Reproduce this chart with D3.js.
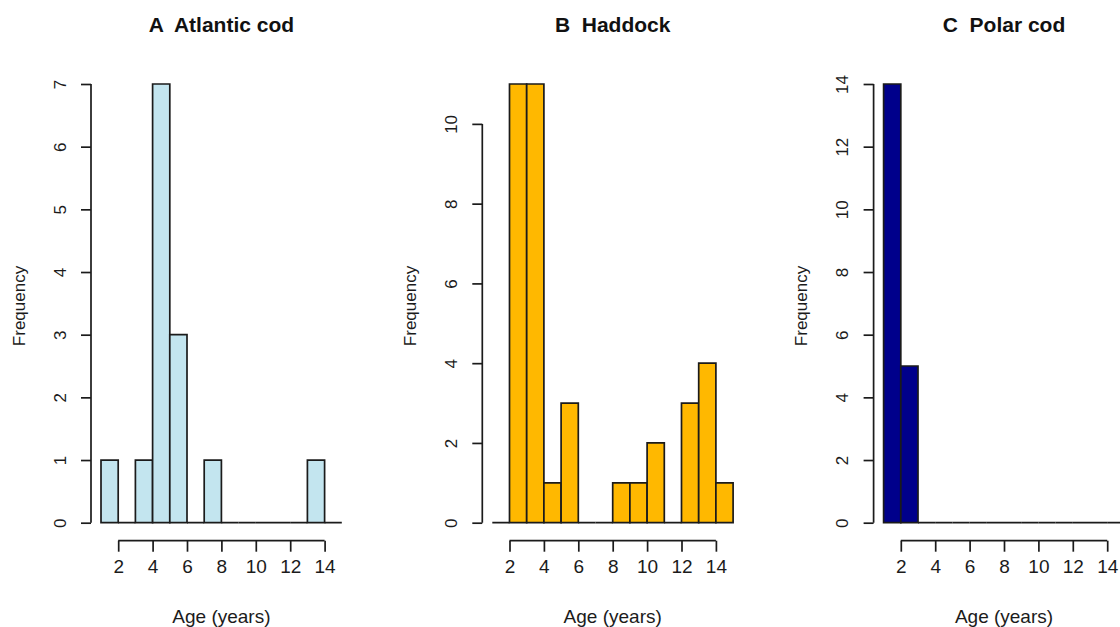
<!DOCTYPE html>
<html>
<head>
<meta charset="utf-8">
<script src="https://cdn.jsdelivr.net/npm/d3@7"></script>
<style>
  html, body { margin: 0; padding: 0; background: #fff; }
  svg { display: block; font-family: "Liberation Sans", Arial, sans-serif; }
</style>
</head>
<body>
<svg id="chart" width="1120" height="627"></svg>
<script>
// Age bins (years): each bin runs from binStarts[i] to binStarts[i] + 1
const binStarts = [1, 2, 3, 4, 5, 6, 7, 8, 9, 10, 11, 12, 13, 14];

// Counts of fish per age bin
const codCounts     = [1, 0, 1, 7, 3, 0, 1, 0, 0, 0, 0, 0, 1, 0];
const haddockCounts = [0, 11, 11, 1, 3, 0, 0, 1, 1, 2, 0, 3, 4, 1];
const polarCounts   = [14, 5, 0, 0, 0, 0, 0, 0, 0, 0, 0, 0, 0, 0];

const panelTitles = ["A  Atlantic cod", "B  Haddock", "C  Polar cod"];
const panelColors = ["#c3e5ef", "#ffb800", "#00008b"];
const xTickValues = [2, 4, 6, 8, 10, 12, 14];
const yTickSets = [
  [0, 1, 2, 3, 4, 5, 6, 7],
  [0, 2, 4, 6, 8, 10],
  [0, 2, 4, 6, 8, 10, 12, 14]
];
const countSets = [codCounts, haddockCounts, polarCounts];

const svg = d3.select("#chart");
const ink = "#1b1b1b";
const fontStack = "'Liberation Sans', Arial, sans-serif";

const panelStep = 391.3;
const firstLeft = 101;
const plotWidth = 240.8;
const yZero = 522.7;
const yTop = 84;
const xAxisY = 540.7;

countSets.forEach((counts, i) => {
  const left = firstLeft + i * panelStep;
  const x = d3.scaleLinear().domain([1, 15]).range([left, left + plotWidth]);
  const yMax = d3.max(counts);
  const y = d3.scaleLinear().domain([0, yMax]).range([yZero, yTop]);
  const g = svg.append("g");

  // Histogram bars (zero-count bins collapse to a line on the baseline)
  g.selectAll("path.bar")
    .data(binStarts.map((b, j) => ({ x0: b, x1: b + 1, n: counts[j] })))
    .join("path")
    .attr("class", "bar")
    .attr("d", d => {
      const p = d3.path();
      p.moveTo(x(d.x0), y(0));
      p.lineTo(x(d.x0), y(d.n));
      p.lineTo(x(d.x1), y(d.n));
      p.lineTo(x(d.x1), y(0));
      p.closePath();
      return p.toString();
    })
    .attr("fill", panelColors[i])
    .attr("stroke", ink)
    .attr("stroke-width", 1.7)
    .attr("stroke-linejoin", "miter");

  // X axis, detached below the plot
  const xAxis = g.append("g")
    .attr("transform", `translate(0,${xAxisY})`)
    .call(d3.axisBottom(x).tickValues(xTickValues).tickFormat(d3.format("d"))
      .tickSize(11).tickSizeOuter(0).tickPadding(8));
  xAxis.select(".domain").attr("stroke", ink).attr("stroke-width", 1.7)
    .attr("d", `M${x(2)},0H${x(14)}`);
  xAxis.selectAll(".tick line").attr("stroke", ink).attr("stroke-width", 1.7);
  xAxis.selectAll(".tick text")
    .attr("fill", ink).attr("font-size", 19)
    .attr("font-family", fontStack);

  // Y axis, detached to the left of the plot
  const yAxisX = x(1) - 10;
  const yTicks = yTickSets[i];
  const yAxis = g.append("g")
    .attr("transform", `translate(${yAxisX},0)`)
    .call(d3.axisLeft(y).tickValues(yTicks).tickFormat(d3.format("d"))
      .tickSize(10).tickSizeOuter(0));
  yAxis.select(".domain").attr("stroke", ink).attr("stroke-width", 1.7)
    .attr("d", `M0,${y(yTicks[0])}V${y(yTicks[yTicks.length - 1])}`);
  yAxis.selectAll(".tick line").attr("stroke", ink).attr("stroke-width", 1.7);
  yAxis.selectAll(".tick text")
    .attr("fill", ink).attr("font-size", 17)
    .attr("font-family", fontStack)
    .attr("x", null).attr("dy", null)
    .attr("text-anchor", "middle")
    .attr("dominant-baseline", "central")
    .attr("transform", "translate(-31,0) rotate(-90)");

  // Axis titles
  g.append("text")
    .attr("x", x(8)).attr("y", 623)
    .attr("text-anchor", "middle")
    .attr("font-size", 19).attr("fill", ink)
    .text("Age (years)");

  g.append("text")
    .attr("transform", `translate(${left - 82},306) rotate(-90)`)
    .attr("text-anchor", "middle")
    .attr("dominant-baseline", "central")
    .attr("font-size", 17).attr("fill", ink)
    .text("Frequency");

  // Panel title (double space kept between letter and name)
  g.append("text")
    .attr("x", x(8)).attr("y", 32)
    .attr("text-anchor", "middle")
    .style("white-space", "pre")
    .attr("font-size", 21).attr("font-weight", "bold").attr("fill", "#111")
    .text(panelTitles[i]);
});
</script>
</body>
</html>
